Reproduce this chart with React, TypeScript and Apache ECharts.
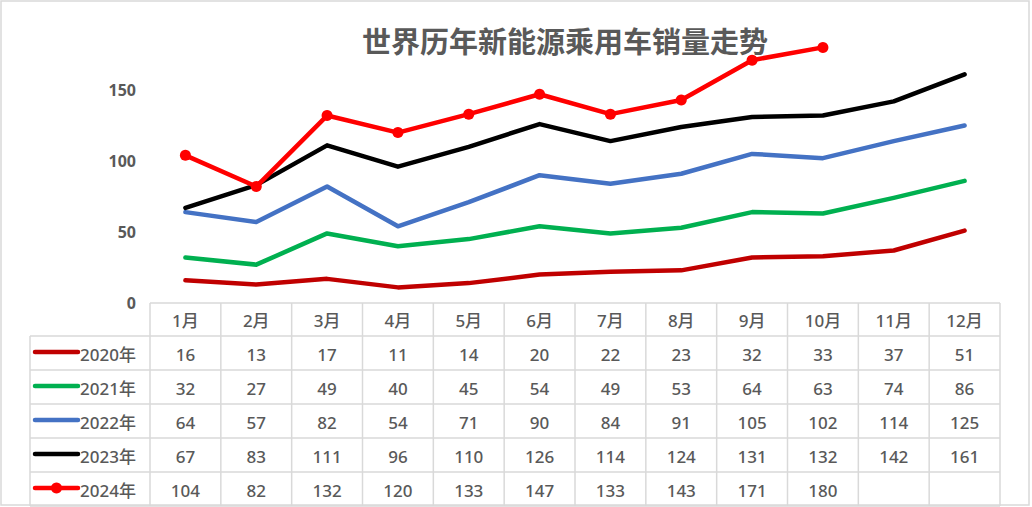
import React, { useEffect, useRef } from "react";
import * as echarts from "echarts";

const title = "世界历年新能源乘用车销量走势";
const months = ["1月", "2月", "3月", "4月", "5月", "6月", "7月", "8月", "9月", "10月", "11月", "12月"];
const seriesNames = ["2020年", "2021年", "2022年", "2023年", "2024年"];
const seriesColors = ["#C00000", "#00B050", "#4472C4", "#000000", "#FF0000"];
const s2020 = [16, 13, 17, 11, 14, 20, 22, 23, 32, 33, 37, 51];
const s2021 = [32, 27, 49, 40, 45, 54, 49, 53, 64, 63, 74, 86];
const s2022 = [64, 57, 82, 54, 71, 90, 84, 91, 105, 102, 114, 125];
const s2023 = [67, 83, 111, 96, 110, 126, 114, 124, 131, 132, 142, 161];
const s2024: (number | null)[] = [104, 82, 132, 120, 133, 147, 133, 143, 171, 180, null, null];
const allSeries = [s2020, s2021, s2022, s2023, s2024];
const yTicks = [0, 50, 100, 150];

export default function App() {
  const ref = useRef<HTMLDivElement>(null);
  useEffect(() => {
    document.body.style.margin = "0";
    const chart = echarts.init(ref.current!, null, { renderer: "svg" });
    const W = 1032;
    const left = 150;
    const right = 1000;
    const tableTop = 303;
    const headerBottom = 336;
    const rowH = 34;
    const legendLeft = 30;
    const colW = (right - left) / months.length;
    const border = "#D9D9D9";
    const textColor = "#595959";
    const font = "'Noto Sans', 'Noto Sans CJK SC', sans-serif";
    const tf = `500 17px ${font}`;
    const bottom = headerBottom + rowH * seriesNames.length;

    const g: any[] = [];
    g.push({ type: "rect", shape: { x: 1, y: 1, width: 1028, height: 504 }, style: { fill: "none", stroke: border, lineWidth: 1.5 }, silent: true });
    const ln = (x1: number, y1: number, x2: number, y2: number) =>
      g.push({ type: "line", shape: { x1, y1, x2, y2 }, style: { stroke: border, lineWidth: 1.5 }, silent: true });
    ln(left, tableTop, right, tableTop);
    for (let r = 0; r <= seriesNames.length; r++) {
      const y = headerBottom + r * rowH;
      ln(legendLeft, y, right, y);
    }
    ln(legendLeft, headerBottom, legendLeft, bottom);
    for (let c = 0; c <= months.length; c++) {
      const x = left + c * colW;
      ln(x, tableTop, x, bottom);
    }
    months.forEach((m, i) => {
      g.push({ type: "text", x: left + colW * (i + 0.5), y: (tableTop + headerBottom) / 2 + 1, style: { text: m, fill: textColor, font: tf, align: "center", verticalAlign: "middle" }, silent: true });
    });
    seriesNames.forEach((name, r) => {
      const cy = headerBottom + rowH * (r + 0.5) + 1;
      g.push({ type: "line", shape: { x1: 35, y1: cy - 2, x2: 78, y2: cy - 2 }, style: { stroke: seriesColors[r], lineWidth: 4.5, lineCap: "round" }, silent: true });
      if (r === 4) {
        g.push({ type: "circle", shape: { cx: 56.5, cy: cy - 2, r: 5.5 }, style: { fill: seriesColors[r] }, silent: true });
      }
      g.push({ type: "text", x: 80, y: cy, style: { text: name, fill: textColor, font: tf, align: "left", verticalAlign: "middle" }, silent: true });
      allSeries[r].forEach((v, i) => {
        if (v == null) return;
        g.push({ type: "text", x: left + colW * (i + 0.5), y: cy, style: { text: String(v), fill: textColor, font: tf, align: "center", verticalAlign: "middle" }, silent: true });
      });
    });

    chart.setOption({
      animation: false,
      backgroundColor: "#fff",
      title: {
        text: title,
        left: 560,
        textAlign: "center",
        top: 20,
        textStyle: { fontSize: 29, fontWeight: "bold", color: textColor, fontFamily: "'Noto Sans CJK SC', sans-serif" },
      },
      grid: { left, right: W - right, top: 19, bottom: 507 - tableTop },
      xAxis: {
        type: "category",
        data: months,
        boundaryGap: true,
        axisLine: { show: false },
        axisTick: { show: false },
        axisLabel: { show: false },
      },
      yAxis: {
        type: "value",
        min: 0,
        max: 200,
        interval: 50,
        splitLine: { show: false },
        axisLine: { show: false },
        axisTick: { show: false },
        axisLabel: {
          margin: 14,
          color: textColor,
          fontSize: 16,
          fontWeight: "bold",
          fontFamily: font,
          formatter: (v: number) => (yTicks.includes(v) ? String(v) : ""),
        },
      },
      series: allSeries.map((d, i) => ({
        name: seriesNames[i],
        type: "line",
        data: d,
        z: 2 + i,
        lineStyle: { color: seriesColors[i], width: 4.5, join: "round", cap: "round" },
        itemStyle: { color: seriesColors[i] },
        symbol: i === 4 ? "circle" : "none",
        symbolSize: 11,
        showSymbol: i === 4,
      })),
      graphic: g,
    });
    return () => chart.dispose();
  }, []);
  return <div ref={ref} style={{ width: 1032, height: 507, position: "absolute", left: 0, top: 0 }} />;
}
